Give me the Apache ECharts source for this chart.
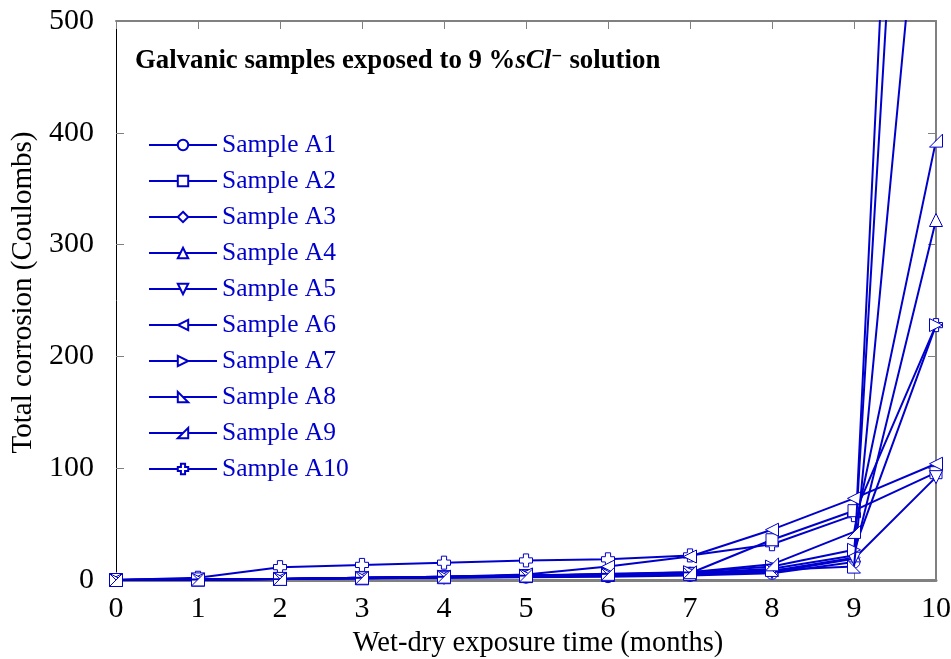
<!DOCTYPE html>
<html>
<head>
<meta charset="utf-8">
<script src="https://cdn.jsdelivr.net/npm/echarts@6/dist/echarts.min.js"></script>
<style>html,body{margin:0;padding:0;background:#fff}#c{width:951px;height:659px}</style>
</head>
<body>
<div id="c"></div>
<script>
const months = [0, 1, 2, 3, 4, 5, 6, 7, 8, 9, 10];
const sampleA1 = [0, 0.5, 1.0, 1.5, 2.0, 2.5, 3.0, 4.0, 6.0, 16, 1550];
const sampleA2 = [0, 0.5, 1.0, 2.0, 3.0, 4.0, 5.0, 6.0, 36, 62, 96];
const sampleA3 = [0, 0.5, 1.0, 1.5, 2.5, 3.0, 4.0, 5.0, 8.0, 20, 1250];
const sampleA4 = [0, 0.5, 1.0, 2.0, 3.0, 4.0, 5.0, 6.0, 10, 22, 322];
const sampleA5 = [0, 0.5, 1.0, 1.5, 2.0, 3.0, 4.0, 5.0, 7.0, 19, 92];
const sampleA6 = [0, 0.5, 1.0, 2.0, 3.0, 5.0, 12, 21, 45, 73, 104];
const sampleA7 = [0, 0.5, 1.0, 2.0, 3.0, 4.0, 5.0, 7.0, 12, 27, 228];
const sampleA8 = [0, 0.5, 1.0, 1.5, 2.5, 3.5, 4.5, 5.5, 9.0, 12, 785];
const sampleA9 = [0, 0.5, 1.0, 2.0, 3.0, 4.0, 5.5, 7.0, 14, 43, 393];
const sampleA10 = [0, 2.0, 11.5, 13.5, 15.5, 17.5, 18.5, 22, 32, 58, 228];
const seriesNames = ['Sample A1','Sample A2','Sample A3','Sample A4','Sample A5','Sample A6','Sample A7','Sample A8','Sample A9','Sample A10'];
const seriesValues = [sampleA1,sampleA2,sampleA3,sampleA4,sampleA5,sampleA6,sampleA7,sampleA8,sampleA9,sampleA10];
const yTicks = [0, 100, 200, 300, 400, 500];

const symbols = [
  'circle',
  'rect',
  'diamond',
  'triangle',
  'path://M0,0 L10,0 L5,10 Z',
  'path://M10,0 L10,10 L0,5 Z',
  'path://M0,0 L0,10 L10,5 Z',
  'path://M0,0 L0,10 L10,10 Z',
  'path://M10,0 L10,10 L0,10 Z',
  'path://M3,0 L7,0 L7,3 L10,3 L10,7 L7,7 L7,10 L3,10 L3,7 L0,7 L0,3 L3,3 Z'
];
const symSizes = [12, 12, 12, 13, 13, 13, 13, 13, 13, 13];
const zOrder = [3, 4, 5, 6, 7, 8, 9, 10, 11, 2];
const BLUE = '#0000cc';
const FONT = 'Liberation Serif';

const series = seriesValues.map((vals, i) => ({
  name: seriesNames[i],
  type: 'line',
  data: months.map((m, j) => [m, vals[j]]),
  symbol: symbols[i],
  symbolSize: symSizes[i],
  showAllSymbol: true,
  clip: true,
  lineStyle: { color: BLUE, width: 2 },
  itemStyle: { color: '#ffffff', borderColor: BLUE, borderWidth: 1 },
  emphasis: { disabled: true },
  z: zOrder[i]
}));

const chart = echarts.init(document.getElementById('c'), null, { renderer: 'canvas' });
chart.setOption({
  animation: false,
  backgroundColor: '#ffffff',
  textStyle: { fontFamily: FONT },
  title: {
    left: 135, top: 48, padding: 0,
    text: '{b|Galvanic samples exposed to 9 %}{i|sCl}{s|⁻}{b| solution}',
    textStyle: {
      rich: {
        b: { fontFamily: FONT, fontWeight: 'bold', fontSize: 26.8, color: '#000' },
        i: { fontFamily: FONT, fontWeight: 'bold', fontStyle: 'italic', fontSize: 26.8, color: '#000' },
        s: { fontFamily: 'DejaVu Serif', fontWeight: 'bold', fontSize: 22, color: '#000' }
      }
    }
  },
  legend: {
    orient: 'vertical',
    left: 148, top: 132, padding: 0,
    itemWidth: 68, itemHeight: 13,
    itemGap: 10,
    selectedMode: false,
    textStyle: { fontFamily: FONT, fontSize: 25.5, color: BLUE, lineHeight: 25 },
    data: seriesNames
  },
  grid: { left: 116, right: 15, top: 21, bottom: 79, containLabel: false, outerBoundsMode: 'none' },
  xAxis: [{
    type: 'value', min: 0, max: 10, interval: 1,
    name: 'Wet-dry exposure time (months)', nameLocation: 'middle', nameGap: 39,
    nameTextStyle: { fontFamily: FONT, fontSize: 28.5, color: '#000', padding: [0, 0, 0, 24] },
    axisLine: { onZero: false, lineStyle: { color: '#808080', width: 3 } },
    axisTick: { inside: true, length: 8, lineStyle: { color: '#808080', width: 1 } },
    axisLabel: { fontFamily: FONT, fontSize: 30, color: '#000', margin: 14 },
    splitLine: { show: false }
  }, {
    type: 'value', min: 0, max: 10, interval: 1, position: 'top',
    axisLine: { onZero: false, lineStyle: { color: '#808080', width: 2 } },
    axisTick: { inside: true, length: 8, lineStyle: { color: '#808080', width: 1 } },
    axisLabel: { show: false },
    splitLine: { show: false }
  }],
  yAxis: [{
    type: 'value', min: yTicks[0], max: yTicks[yTicks.length - 1], interval: 100,
    name: 'Total corrosion (Coulombs)', nameLocation: 'middle', nameGap: 77,
    nameTextStyle: { fontFamily: FONT, fontSize: 29, color: '#000', padding: [0, 0, 0, 16] },
    axisLine: { onZero: false, lineStyle: { color: '#000', width: 1 } },
    axisTick: { inside: true, length: 8, lineStyle: { color: '#808080', width: 1 } },
    axisLabel: { fontFamily: FONT, fontSize: 30, color: '#000', margin: 22 },
    splitLine: { show: false }
  }, {
    type: 'value', min: yTicks[0], max: yTicks[yTicks.length - 1], interval: 100, position: 'right',
    axisLine: { show: true, onZero: false, lineStyle: { color: '#808080', width: 2 } },
    axisTick: { show: true, inside: true, length: 8, lineStyle: { color: '#808080', width: 1 } },
    axisLabel: { show: false },
    splitLine: { show: false }
  }],
  series: series
});
</script>
</body>
</html>
